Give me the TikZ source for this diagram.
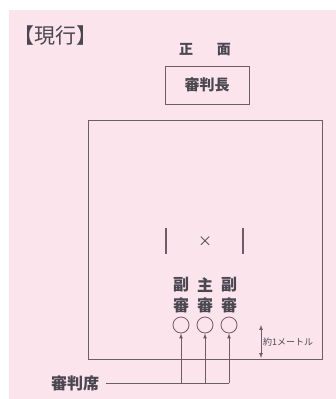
\documentclass[tikz,border=0pt]{standalone}
\usepackage{fontspec}
\setmainfont{Noto Sans CJK JP}
\usepackage{tikz}
\usetikzlibrary{positioning, calc}
\definecolor{bgpink}{HTML}{FCE4EC}
\definecolor{linegray}{HTML}{6E5C68}
\definecolor{textgray}{HTML}{4A4750}
\newcommand{\fsz}[1]{\fontsize{#1}{#1}\selectfont}
\tikzstyle{every label text}=[text=textgray, inner sep=1pt]
\tikzstyle{judge box}=[draw=linegray, line width=0.8pt, minimum width=84pt, minimum height=38pt]
\tikzstyle{seat}=[circle, draw=linegray, line width=0.8pt, minimum size=16pt, inner sep=0pt]
\tikzstyle{court}=[draw=linegray, line width=0.9pt]
\tikzstyle{arrow}=[->, >=latex, draw=linegray, line width=0.7pt]

\begin{document}
\begin{tikzpicture}[x=1pt, y=-1pt]
      \useasboundingbox (0,0) rectangle (336,399);
      \fill[bgpink] (9,10) rectangle (336,399);

      \node [every label text, anchor=west, font=\fsz{21}] (title) at (12,36) {【現行】};
      \node [every label text, font=\bfseries\fsz{14}] (front) at (205,50) {正\hspace{24pt}面};
      \node [every label text, judge box, font=\bfseries\fsz{15}] (chief) at (207,85) {審判長};

      \draw [court] (88,120) rectangle (322,359);
      \draw [court, line width=2pt] (166,228) -- (166,254);
      \draw [court, line width=2pt] (243,228) -- (243,254);
      \node [every label text, font=\fsz{14}] (mark) at (205,242) {×};

      \foreach \l [count=\i] in {副,主,副}{
        \node [every label text, font=\bfseries\fsz{16}] (role-\i) at (157+24*\i,285) {\l};
        \node [every label text, font=\bfseries\fsz{16}] (rank-\i) at (157+24*\i,305) {審};
        \node [seat] (seat-\i) at (157+24*\i,325) {};
        \coordinate (foot-\i) at (157+24*\i,383);
        \draw [arrow] (foot-\i) -- (seat-\i);
      }
      \node [every label text, font=\bfseries\fsz{16}] (bench) at (75,383) {審判席};
      \draw [court, line width=0.7pt] ([xshift=6pt]bench.east) -- (foot-3);

      \coordinate (dim-top) at (261,325);
      \coordinate (dim-bot) at (261,358);
      \draw [arrow, <->] (dim-top) -- (dim-bot);
      \node [every label text, anchor=west, font=\fsz{9}] (dist) at (262,342) {約1メートル};
    \end{tikzpicture}
\end{document}
